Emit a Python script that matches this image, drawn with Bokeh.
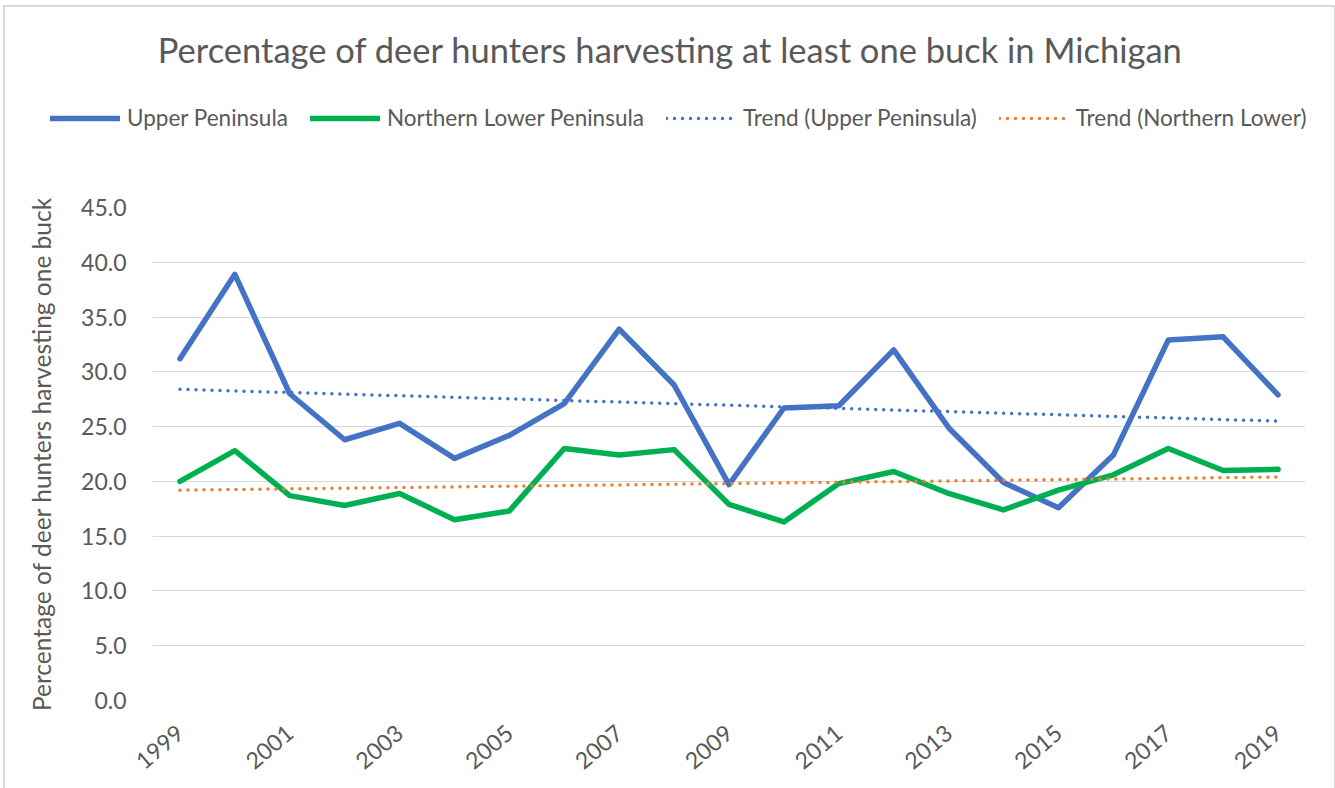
from bokeh.plotting import figure
from bokeh.models import Range1d, FixedTicker, Legend, LegendItem, Label, Div
from bokeh.embed import file_html
from bokeh.resources import INLINE

years = list(range(1999, 2020))
upper_peninsula = [31.2, 38.9, 28.0, 23.8, 25.3, 22.1, 24.2, 27.1, 33.9, 28.8, 19.7,
                   26.7, 26.9, 32.0, 24.9, 19.9, 17.6, 22.4, 32.9, 33.2, 27.9]
northern_lower = [20.0, 22.8, 18.7, 17.8, 18.9, 16.5, 17.3, 23.0, 22.4, 22.9, 17.9,
                  16.3, 19.8, 20.9, 18.9, 17.4, 19.2, 20.6, 23.0, 21.0, 21.1]
trend_years = [1999, 2019]
trend_upper = [28.4, 25.5]
trend_lower = [19.2, 20.4]
tick_years = [1999, 2001, 2003, 2005, 2007, 2009, 2011, 2013, 2015, 2017, 2019]
y_ticks = [0, 5, 10, 15, 20, 25, 30, 35, 40, 45]
series_names = ["Upper Peninsula", "Northern Lower Peninsula",
                "Trend (Upper Peninsula)", "Trend (Northern Lower)"]
chart_title = "Percentage of deer hunters harvesting at least one buck in Michigan"

FONT = "Lato"
TXT = "#595959"
BLUE = "#4472C4"
GREEN = "#00B050"
ORANGE = "#ED7D31"
W = 1335
HEAD_H = 187
TOP_PAD = 20
MAIN_H = 600

styles = [dict(line_color=BLUE, line_width=5.5, line_join="round", line_cap="round"),
          dict(line_color=GREEN, line_width=5.5, line_join="round", line_cap="round"),
          dict(line_color=BLUE, line_width=3.5, line_dash="0 8", line_cap="round"),
          dict(line_color=ORANGE, line_width=3.5, line_dash="0 8", line_cap="round")]
series_x = [years, years, trend_years, trend_years]
series_y = [upper_peninsula, northern_lower, trend_upper, trend_lower]

# ---- header: title + legend (a figure of its own, in pixel coordinates) ----
head = figure(width=W, height=HEAD_H, output_backend="svg", toolbar_location=None,
              x_range=Range1d(0, W), y_range=Range1d(0, HEAD_H),
              x_axis_type=None, y_axis_type=None,
              min_border_left=0, min_border_right=0, min_border_top=0, min_border_bottom=0)
head.outline_line_color = None
head.xgrid.visible = False
head.ygrid.visible = False

head.add_layout(Label(x=670, y=HEAD_H - 49, text=chart_title, text_align="center",
                      text_baseline="middle", text_font=FONT, text_font_size="34.5px",
                      text_color=TXT))

legend_renderers = [head.line(xs, ys, visible=False, **st)
                    for xs, ys, st in zip(series_x, series_y, styles)]
legend = Legend(items=[LegendItem(label=n, renderers=[r]) for n, r in zip(series_names, legend_renderers)],
                orientation="horizontal", glyph_width=70, glyph_height=24, label_height=24,
                label_standoff=7, padding=0, margin=0, spacing=22,
                background_fill_alpha=0, border_line_color=None,
                inactive_fill_alpha=0,
                label_text_font=FONT, label_text_font_size="22.5px", label_text_color=TXT,
                location=(50, HEAD_H - 118 - 12 - 1))
head.add_layout(legend, "center")

# ---- main chart ----
p = figure(width=W, height=MAIN_H, output_backend="svg", toolbar_location=None,
           x_range=Range1d(1998.5, 2019.5), y_range=Range1d(0, 45),
           min_border_left=152, min_border_right=30, min_border_top=TOP_PAD, min_border_bottom=87)
p.outline_line_color = None

p.xgrid.grid_line_color = None
p.ygrid.grid_line_color = "#D9D9D9"
p.ygrid.grid_line_width = 1

p.xaxis.ticker = FixedTicker(ticks=tick_years)
p.xaxis.major_label_overrides = {y: str(y) for y in tick_years}
p.xaxis.major_label_orientation = 0.7
p.xaxis.axis_line_color = None
p.xaxis.major_tick_line_color = None
p.xaxis.minor_tick_line_color = None
p.xaxis.major_tick_out = 0
p.xaxis.major_tick_in = 0
p.xaxis.major_label_text_font = FONT
p.xaxis.major_label_text_font_size = "23px"
p.xaxis.major_label_text_color = TXT
p.xaxis.major_label_standoff = 29

p.yaxis.ticker = FixedTicker(ticks=y_ticks)
p.yaxis.major_label_overrides = {v: f"{v:.1f}" for v in y_ticks}
p.yaxis.axis_line_color = None
p.yaxis.major_tick_line_color = None
p.yaxis.minor_tick_line_color = None
p.yaxis.major_label_text_font = FONT
p.yaxis.major_label_text_font_size = "23px"
p.yaxis.major_label_text_color = TXT
p.yaxis.major_label_standoff = 20
p.yaxis.axis_label = "Percentage of deer hunters harvesting one buck"
p.yaxis.axis_label_text_font = FONT
p.yaxis.axis_label_text_font_size = "24.5px"
p.yaxis.axis_label_text_font_style = "normal"
p.yaxis.axis_label_text_color = TXT
p.yaxis.axis_label_standoff = 22

for xs, ys, st in zip(series_x, series_y, styles):
    p.line(xs, ys, **st)

frame_div = Div(text="", width=1, height=1,
                styles={"position": "absolute", "left": "-2px", "top": "0px",
                        "width": "1333px", "height": "790px",
                        "border": "2px solid #D9D9D9", "pointer-events": "none"})

open("out.html", "w").write(file_html([head, p, frame_div], INLINE))
